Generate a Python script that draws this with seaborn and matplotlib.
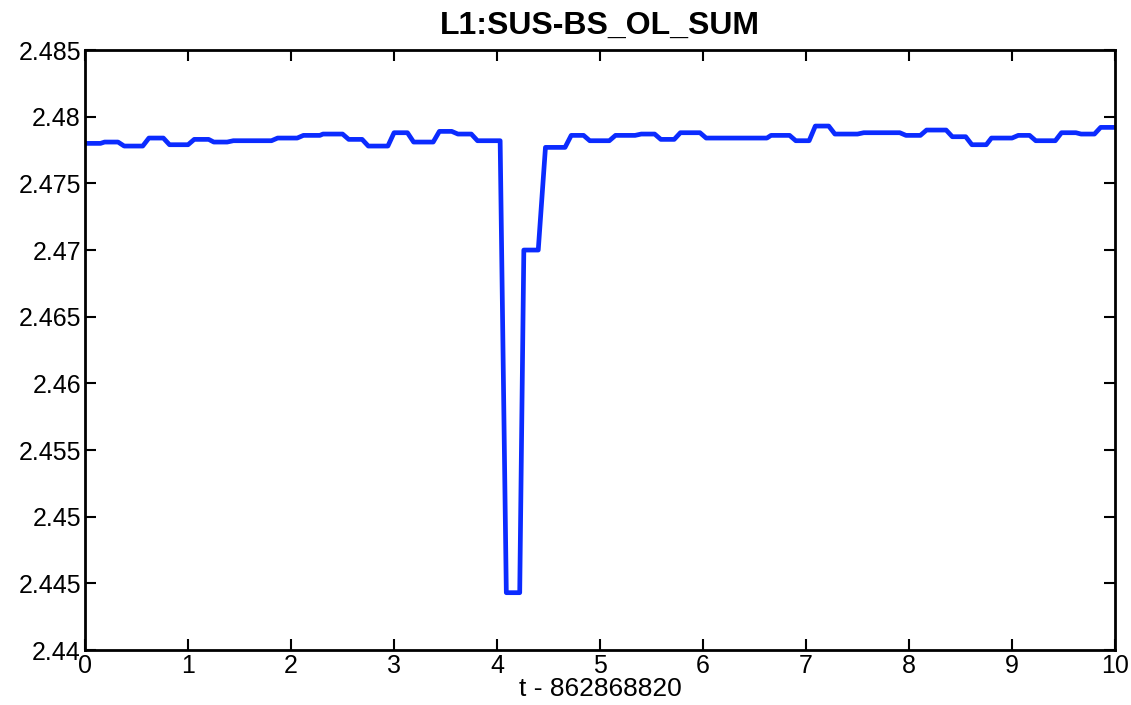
import matplotlib
matplotlib.use("Agg")
import matplotlib.pyplot as plt
import seaborn as sns
import pandas as pd
from matplotlib.ticker import FixedLocator, FuncFormatter

# Breakpoints of the trace (time offset in seconds, value)
t_vals = [0.00, 0.15, 0.19, 0.32, 0.38, 0.56, 0.62, 0.76, 0.82, 1.00,
          1.06, 1.20, 1.25, 1.38, 1.44, 1.81, 1.87, 2.06, 2.12, 2.28,
          2.31, 2.50, 2.56, 2.69, 2.75, 2.94, 3.00, 3.13, 3.19, 3.38,
          3.44, 3.56, 3.62, 3.75, 3.81, 4.03, 4.09, 4.22, 4.26, 4.40,
          4.47, 4.66, 4.72, 4.84, 4.90, 5.09, 5.15, 5.34, 5.40, 5.53,
          5.59, 5.72, 5.78, 5.97, 6.03, 6.62, 6.66, 6.84, 6.90, 7.03,
          7.09, 7.22, 7.28, 7.50, 7.56, 7.91, 7.97, 8.11, 8.17, 8.36,
          8.42, 8.55, 8.61, 8.75, 8.80, 9.00, 9.06, 9.17, 9.23, 9.42,
          9.48, 9.62, 9.67, 9.80, 9.86, 10.00]
signal = [2.4780, 2.4780, 2.4781, 2.4781, 2.4778, 2.4778, 2.4784, 2.4784, 2.4779, 2.4779,
          2.4783, 2.4783, 2.4781, 2.4781, 2.4782, 2.4782, 2.4784, 2.4784, 2.4786, 2.4786,
          2.4787, 2.4787, 2.4783, 2.4783, 2.4778, 2.4778, 2.4788, 2.4788, 2.4781, 2.4781,
          2.4789, 2.4789, 2.4787, 2.4787, 2.4782, 2.4782, 2.4443, 2.4443, 2.4700, 2.4700,
          2.4777, 2.4777, 2.4786, 2.4786, 2.4782, 2.4782, 2.4786, 2.4786, 2.4787, 2.4787,
          2.4783, 2.4783, 2.4788, 2.4788, 2.4784, 2.4784, 2.4786, 2.4786, 2.4782, 2.4782,
          2.4793, 2.4793, 2.4787, 2.4787, 2.4788, 2.4788, 2.4786, 2.4786, 2.4790, 2.4790,
          2.4785, 2.4785, 2.4779, 2.4779, 2.4784, 2.4784, 2.4786, 2.4786, 2.4782, 2.4782,
          2.4788, 2.4788, 2.4787, 2.4787, 2.4792, 2.4792]

x_ticks = list(range(0, 11))
y_ticks = [2.44, 2.445, 2.45, 2.455, 2.46, 2.465, 2.47, 2.475, 2.48, 2.485]
title = "L1:SUS-BS_OL_SUM"
x_label = "t - 862868820"

sns.set_style("ticks")
plt.rcParams['font.family'] = ['Liberation Sans', 'DejaVu Sans']
plt.rcParams['text.color'] = 'black'
plt.rcParams['axes.labelcolor'] = 'black'

df = pd.DataFrame({"t": t_vals, "v": signal})

fig = plt.figure(figsize=(11.31, 7.05), dpi=100)
ax = fig.add_axes([0.0752, 0.078, 0.9107, 0.851])
sns.lineplot(data=df, x="t", y="v", ax=ax, estimator=None, sort=False,
             color="#0b2bff", linewidth=3.4)

ax.set_xlim(0, 10)
ax.set_ylim(2.44, 2.485)
ax.xaxis.set_major_locator(FixedLocator(x_ticks))
ax.yaxis.set_major_locator(FixedLocator(y_ticks))
ax.yaxis.set_major_formatter(FuncFormatter(lambda v, p: f"{v:g}"))
ax.xaxis.set_major_formatter(FuncFormatter(lambda v, p: f"{v:g}"))
ax.tick_params(direction="in", length=8, width=1.5, top=True, right=True,
               labelsize=18, colors="black", pad=3)
for s in ax.spines.values():
    s.set_visible(True)
    s.set_linewidth(2)
    s.set_color("black")

ax.set_xlabel(x_label, fontsize=19, labelpad=-1, color="black")
ax.set_ylabel("")
ax.set_title(title, fontsize=23, fontweight="bold", pad=12, color="black")

fig.savefig("out.png", dpi=100)
